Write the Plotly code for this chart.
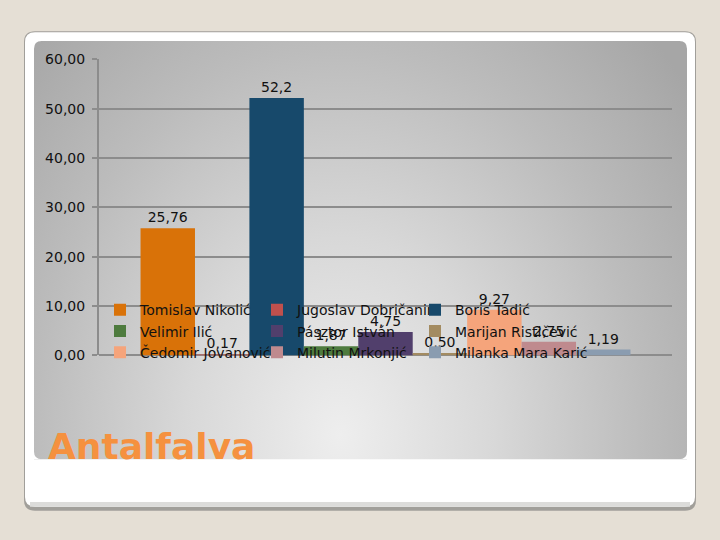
import plotly.graph_objects as go

W, H = 720, 540

# ---- data ----
category = "Antalfalva"
candidates = ["Tomislav Nikolić", "Jugoslav Dobričanin", "Boris Tadić",
              "Velimir Ilić", "Pásztor István", "Marijan Rističević",
              "Čedomir Jovanović", "Milutin Mrkonjić", "Milanka Mara Karić"]
values = [25.76, 0.17, 52.2, 1.87, 4.75, 0.50, 9.27, 2.75, 1.19]
value_labels = ["25,76", "0,17", "52,2", "1,87", "4,75", "0,50", "9,27", "2,75", "1,19"]
colors = ["#D97208", "#C0504D", "#17496B", "#4E7B3E", "#513F6C",
          "#A38B61", "#F5A47B", "#BF8A8E", "#8A9CB0"]
legend_ids = ["legend", "legend2", "legend3"] * 3

y_ticks = [0, 10, 20, 30, 40, 50, 60]


def fx(x):
    return x / W


def fy(y):
    return 1 - y / H


def rrect(x0, y0, x1, y1, r):
    """rounded rect path in paper fractions (inputs in pixels)"""
    pts = [
        ("M", [(x0 + r, y0)]),
        ("L", [(x1 - r, y0)]),
        ("Q", [(x1, y0), (x1, y0 + r)]),
        ("L", [(x1, y1 - r)]),
        ("Q", [(x1, y1), (x1 - r, y1)]),
        ("L", [(x0 + r, y1)]),
        ("Q", [(x0, y1), (x0, y1 - r)]),
        ("L", [(x0, y0 + r)]),
        ("Q", [(x0, y0), (x0 + r, y0)]),
    ]
    s = ""
    for cmd, ps in pts:
        s += cmd + " ".join(f"{fx(a):.5f},{fy(b):.5f}" for a, b in ps)
    return s + "Z"


fig = go.Figure()

# background gradient panel (decorative)
PX0, PY0, PX1, PY1 = 34, 34, 687, 465
fig.add_trace(go.Scatter(
    x=[-102, 782, 782, -102, -102], y=[-140, -140, 1020, 1020, -140],
    mode="lines", line=dict(width=0), fill="toself",
    fillgradient=dict(type="radial",
                      colorscale=[[0, "#eeeeee"], [0.35, "#d8d8d8"],
                                  [0.69, "#bcbcbc"], [1, "#a6a6a6"]]),
    showlegend=False, hoverinfo="skip", xaxis="x", yaxis="y"))

for name, v, lab, c, lg in zip(candidates, values, value_labels, colors, legend_ids):
    fig.add_trace(go.Bar(
        x=[category], y=[v], name=name, text=[lab], textposition="outside",
        cliponaxis=False, constraintext="none",
        textfont=dict(family="DejaVu Sans", size=14, color="#111"),
        marker=dict(color=c, line=dict(width=0)),
        xaxis="x2", yaxis="y2", legend=lg))

shapes = [
    dict(type="path", xref="paper", yref="paper", layer="below",
         path=rrect(24, 24, 696, 518, 11), fillcolor="#a19f9a", line=dict(width=0)),
    dict(type="path", xref="paper", yref="paper", layer="below",
         path=rrect(25, 25, 695, 514, 10), fillcolor="#ffffff", line=dict(width=0)),
    dict(type="rect", xref="paper", yref="paper", layer="below",
         x0=fx(30), x1=fx(690), y0=fy(514), y1=fy(509), fillcolor="#dcdcda", line=dict(width=0)),
]
# rounded panel corners
R = 8
for (cx, cy, dx, dy) in [(PX0, PY0, 1, 1), (PX1, PY0, -1, 1), (PX0, PY1, 1, -1), (PX1, PY1, -1, -1)]:
    shapes.append(dict(
        type="path", xref="x", yref="y", layer="above",
        path=f"M{cx},{cy} L{cx + dx * R},{cy} Q{cx},{cy} {cx},{cy + dy * R} Z",
        fillcolor="#ffffff", line=dict(width=0)))

legend_common = dict(orientation="v", xanchor="left", yanchor="top",
                     bgcolor="rgba(0,0,0,0)", borderwidth=0, itemwidth=30,
                     font=dict(family="DejaVu Sans", size=14, color="#111"),
                     itemclick=False, itemdoubleclick=False)
LEG_TOP = 295

fig.update_layout(
    width=W, height=H,
    margin=dict(l=0, r=0, t=0, b=0),
    paper_bgcolor="#e5dfd5",
    plot_bgcolor="rgba(0,0,0,0)",
    separators=", ",
    barmode="group", bargap=0.145, bargroupgap=0,
    font=dict(family="DejaVu Sans", size=14, color="#111"),
    xaxis=dict(domain=[fx(PX0), fx(PX1)], range=[PX0, PX1], visible=False, fixedrange=True),
    yaxis=dict(domain=[fy(PY1), fy(PY0)], range=[PY1, PY0], visible=False, fixedrange=True),
    xaxis2=dict(domain=[fx(99), fx(672)], anchor="y2", showticklabels=False,
                showgrid=False, showline=False, ticks="", range=[-0.5, 0.5]),
    yaxis2=dict(domain=[fy(358), fy(53)], anchor="x2", range=[0, 60],
                tickvals=y_ticks, tickformat=".2f",
                showgrid=True, gridcolor="#8c8c8c", gridwidth=2,
                zeroline=True, zerolinecolor="#8c8c8c", zerolinewidth=2,
                showline=True, linecolor="#8c8c8c", linewidth=2,
                ticks="outside", ticklen=5, tickwidth=2, tickcolor="#8c8c8c",
                ticklabelstandoff=4,
                tickfont=dict(family="DejaVu Sans", size=14, color="#111")),
    legend=dict(x=fx(100), y=fy(LEG_TOP), **legend_common),
    legend2=dict(x=fx(257), y=fy(LEG_TOP), **legend_common),
    legend3=dict(x=fx(415), y=fy(LEG_TOP), **legend_common),
    shapes=shapes,
    annotations=[dict(
        text="<b>Antalfalva</b>", xref="paper", yref="paper",
        x=fx(46), y=fy(451.5), xanchor="left", yanchor="middle", showarrow=False,
        font=dict(family="DejaVu Sans", size=36, color="#F5913F"))],
    showlegend=True,
)

fig.write_html("out.html")
